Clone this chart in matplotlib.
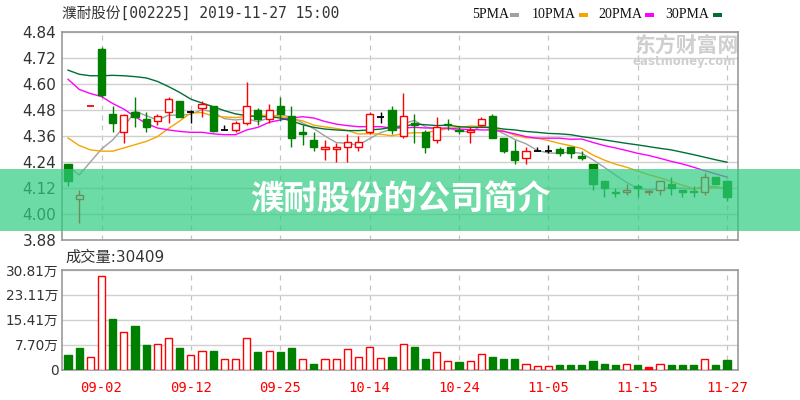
import matplotlib
matplotlib.use("Agg")
import matplotlib.pyplot as plt
from matplotlib.patches import Rectangle

plt.rcParams['font.family'] = ['DejaVu Sans', 'Noto Sans CJK SC']

# ---------------- data ----------------
title = "濮耐股份[002225] 2019-11-27 15:00"
banner = "濮耐股份的公司简介"
vol_title = "成交量:30409"

opens = [4.23, 4.07, 4.50, 4.76, 4.46, 4.38, 4.47, 4.44, 4.43, 4.47,
         4.52, 4.47, 4.49, 4.50, 4.39, 4.39, 4.42, 4.48, 4.44, 4.50,
         4.45, 4.38, 4.34, 4.30, 4.30, 4.31, 4.31, 4.38, 4.45, 4.48,
         4.36, 4.42, 4.38, 4.34, 4.415, 4.39, 4.38, 4.41, 4.45, 4.35,
         4.29, 4.26, 4.29, 4.29, 4.30, 4.31, 4.27, 4.23, 4.15, 4.10,
         4.10, 4.13, 4.10, 4.11, 4.14, 4.11, 4.105, 4.10, 4.17, 4.15]
highs = [4.23, 4.11, 4.50, 4.77, 4.50, 4.46, 4.54, 4.47, 4.46, 4.54,
         4.52, 4.48, 4.52, 4.50, 4.41, 4.43, 4.61, 4.49, 4.51, 4.54,
         4.50, 4.41, 4.38, 4.34, 4.33, 4.37, 4.36, 4.47, 4.47, 4.50,
         4.56, 4.46, 4.39, 4.45, 4.44, 4.40, 4.40, 4.45, 4.46, 4.35,
         4.34, 4.31, 4.31, 4.32, 4.31, 4.31, 4.29, 4.23, 4.15, 4.12,
         4.14, 4.14, 4.11, 4.15, 4.17, 4.11, 4.13, 4.19, 4.17, 4.15]
lows = [4.13, 3.96, 4.50, 4.54, 4.38, 4.33, 4.40, 4.38, 4.41, 4.42,
        4.45, 4.42, 4.45, 4.38, 4.39, 4.38, 4.41, 4.41, 4.42, 4.43,
        4.31, 4.32, 4.29, 4.25, 4.24, 4.24, 4.29, 4.37, 4.42, 4.37,
        4.35, 4.33, 4.28, 4.33, 4.39, 4.37, 4.33, 4.40, 4.35, 4.28,
        4.23, 4.23, 4.29, 4.28, 4.27, 4.26, 4.25, 4.11, 4.08, 4.08,
        4.09, 4.08, 4.09, 4.09, 4.09, 4.08, 4.08, 4.09, 4.14, 4.06]
closes = [4.15, 4.09, 4.50, 4.55, 4.42, 4.455, 4.45, 4.40, 4.45, 4.53,
          4.45, 4.47, 4.51, 4.385, 4.39, 4.42, 4.50, 4.44, 4.48, 4.46,
          4.35, 4.37, 4.31, 4.31, 4.31, 4.33, 4.33, 4.46, 4.45, 4.39,
          4.45, 4.41, 4.31, 4.40, 4.41, 4.385, 4.39, 4.44, 4.35, 4.29,
          4.25, 4.29, 4.29, 4.29, 4.28, 4.28, 4.26, 4.14, 4.12, 4.097,
          4.11, 4.12, 4.105, 4.15, 4.12, 4.10, 4.10, 4.17, 4.14, 4.08]

ma5 = [4.22, 4.18, 4.24, 4.30, 4.342, 4.402, 4.474, 4.454, 4.434, 4.456,
       4.456, 4.46, 4.482, 4.47, 4.44, 4.434, 4.44, 4.426, 4.444, 4.46,
       4.446, 4.42, 4.394, 4.36, 4.33, 4.326, 4.318, 4.348, 4.376, 4.392,
       4.416, 4.432, 4.402, 4.392, 4.396, 4.383, 4.379, 4.405, 4.395, 4.371,
       4.344, 4.324, 4.294, 4.282, 4.28, 4.286, 4.28, 4.25, 4.216, 4.18,
       4.146, 4.118, 4.111, 4.117, 4.121, 4.119, 4.115, 4.128, 4.126, 4.118]
ma10 = [4.351, 4.316, 4.296, 4.29, 4.29, 4.305, 4.32, 4.335, 4.357, 4.395,
        4.429, 4.467, 4.468, 4.452, 4.448, 4.445, 4.45, 4.454, 4.457, 4.45,
        4.44, 4.43, 4.41, 4.402, 4.395, 4.386, 4.369, 4.371, 4.368, 4.361,
        4.371, 4.375, 4.375, 4.384, 4.394, 4.40, 4.406, 4.404, 4.394, 4.384,
        4.364, 4.352, 4.35, 4.339, 4.326, 4.315, 4.302, 4.272, 4.249, 4.23,
        4.216, 4.199, 4.181, 4.167, 4.151, 4.133, 4.117, 4.12, 4.122, 4.12]
ma20 = [4.622, 4.575, 4.556, 4.542, 4.51, 4.484, 4.449, 4.418, 4.397, 4.388,
        4.381, 4.377, 4.377, 4.37, 4.366, 4.366, 4.388, 4.40, 4.423, 4.434,
        4.443, 4.449, 4.443, 4.427, 4.415, 4.408, 4.403, 4.403, 4.403, 4.397,
        4.397, 4.40, 4.397, 4.397, 4.396, 4.392, 4.39, 4.388, 4.388, 4.381,
        4.37, 4.357, 4.35, 4.35, 4.35, 4.345, 4.346, 4.33, 4.316, 4.305,
        4.293, 4.28, 4.27, 4.257, 4.243, 4.231, 4.216, 4.20, 4.185, 4.17]
ma30 = [4.664, 4.645, 4.638, 4.638, 4.64, 4.638, 4.634, 4.628, 4.612, 4.588,
        4.561, 4.53, 4.512, 4.495, 4.477, 4.462, 4.454, 4.449, 4.449, 4.443,
        4.43, 4.412, 4.40, 4.392, 4.388, 4.385, 4.385, 4.388, 4.392, 4.40,
        4.403, 4.415, 4.412, 4.408, 4.41, 4.403, 4.40, 4.40, 4.40, 4.392,
        4.388, 4.381, 4.377, 4.372, 4.37, 4.366, 4.357, 4.35, 4.342, 4.334,
        4.326, 4.319, 4.311, 4.303, 4.296, 4.285, 4.274, 4.262, 4.25, 4.239]

# volume in 万 shares; colour code: R = up (hollow red), r = red filled, G = down (green)
volumes = [4.48, 6.77, 3.96, 28.8, 15.7, 11.66, 13.5, 7.6, 7.9, 9.8,
           6.77, 4.37, 5.7, 5.8, 3.1, 3.1, 9.8, 5.3, 5.7, 5.3,
           6.77, 3.1, 1.8, 3.1, 3.4, 6.2, 4.0, 7.1, 3.5, 4.0,
           7.9, 7.1, 3.1, 5.3, 2.6, 2.2, 2.6, 4.8, 4.0, 3.2,
           3.2, 1.6, 1.15, 1.15, 1.25, 1.25, 1.25, 2.6, 1.8, 1.25,
           1.6, 1.25, 0.7, 1.6, 1.25, 1.25, 1.25, 3.4, 1.25, 3.04]
vol_dir = "GGRRGRGGRRGRRGRRRGRGGRGRRRRRRGRGGRRGRRGGGRRRGGGGGGRGrRGGGRGG"

date_pos = [3, 11, 19, 27, 35, 43, 51, 59]
date_labels = ["09-02", "09-12", "09-25", "10-14", "10-24", "11-05", "11-15", "11-27"]
price_ticks = [3.88, 4.00, 4.12, 4.24, 4.36, 4.48, 4.60, 4.72, 4.84]
vol_ticks = [0, 7.70, 15.41, 23.11, 30.81]
vol_tick_labels = ["0", "7.70万", "15.41万", "23.11万", "30.81万"]
legend_names = ["5PMA", "10PMA", "20PMA", "30PMA"]

# ---------------- style ----------------
RED = "#ff0000"
GREEN = "#008000"
MA_COLORS = ["#a0a0a0", "#f5a500", "#ff00ff", "#006f35"]
GRID = "#d0d0d0"
FRAME = "#9a9a9a"
TXT = "#333333"

fig = plt.figure(figsize=(8, 4), dpi=100)
ax = fig.add_axes([62 / 800, 1 - 240 / 400, 676 / 800, 208 / 400])
axv = fig.add_axes([62 / 800, 1 - 369.5 / 400, 676 / 800, 99.5 / 400])

n = len(closes)
xs = list(range(n))
W = 0.64

for a in (ax, axv):
    a.set_xlim(-0.54, 59.98)
    for s in a.spines.values():
        s.set_color(FRAME)
        s.set_linewidth(1.2)
    a.set_xticks(date_pos)
    a.tick_params(length=0, colors=TXT)
    a.grid(axis='x', color="#c4c4c4", linestyle=(0, (4, 4)), linewidth=0.9)
    a.grid(axis='y', color=GRID, linestyle='-', linewidth=1.0)
    a.set_axisbelow(True)

# price panel
ax.set_ylim(3.88, 4.84)
ax.set_yticks(price_ticks)
ax.set_yticklabels([f"{t:.2f}" for t in price_ticks], fontsize=11, color=TXT)
ax.tick_params(axis='y', pad=4)
ax.set_xticklabels([])

for ma, col in zip([ma5, ma10, ma20, ma30], MA_COLORS):
    ax.plot(xs, ma, color=col, linewidth=1.0, zorder=2)

for i in xs:
    o, h, l, c = opens[i], highs[i], lows[i], closes[i]
    if c > o or (c == o and h == l):
        col = RED
        face = "white" if c > o else RED
    elif c < o:
        col = GREEN
        face = GREEN
    else:
        col = "black"
        face = "black"
    ax.vlines(i, l, h, color=col, linewidth=1.0, zorder=3)
    if c != o:
        ax.bar(i, abs(c - o), bottom=min(o, c), width=W, facecolor=face,
               edgecolor=col, linewidth=1.0, zorder=4)
    else:
        ax.hlines(c, i - W / 2, i + W / 2, color=col, linewidth=1.3, zorder=4)

# volume panel
axv.set_ylim(0, 30.81)
axv.set_yticks(vol_ticks)
axv.set_yticklabels(vol_tick_labels, fontsize=9.8, color=TXT)
axv.tick_params(axis='y', pad=2.5)
axv.set_xticklabels(date_labels, fontsize=10, color=RED, family=['DejaVu Sans Mono'])
axv.tick_params(axis='x', pad=8, colors=RED)
for i in xs:
    d = vol_dir[i]
    if d == "R":
        axv.bar(i, volumes[i], width=W, facecolor="white", edgecolor=RED, linewidth=1.0, zorder=3)
    elif d == "r":
        axv.bar(i, volumes[i], width=W, facecolor=RED, edgecolor=RED, linewidth=1.0, zorder=3)
    else:
        axv.bar(i, volumes[i], width=W, facecolor=GREEN, edgecolor=GREEN, linewidth=1.0, zorder=3)

# texts
fig.text(62 / 800, 1 - 13 / 400, title, fontsize=10.5, color=TXT, va='center', ha='left',
         family=['DejaVu Sans Mono', 'Noto Sans CJK SC'])
fig.text(65 / 800, 1 - 257.5 / 400, vol_title, fontsize=11, color=TXT, va='center', ha='left',
         family=['DejaVu Sans', 'Noto Sans CJK SC'])

leg_x = [472, 532, 598, 665]
dash_x = [510, 579, 645, 713]
for name, lx, dx, col in zip(legend_names, leg_x, dash_x, MA_COLORS):
    fig.text(lx / 800, 1 - 15 / 400, name, fontsize=10, color="#111111", va='center', ha='left',
             family=['Liberation Serif'])
    fig.add_artist(Rectangle((dx / 800, 1 - 17 / 400), 9 / 800, 3.5 / 400, transform=fig.transFigure,
                             facecolor=col, edgecolor='none'))

# watermark
fig.text(687 / 800, 1 - 46 / 400, "东方财富网", fontsize=15, color="#cfcfcf", va='center', ha='center',
         family=['Noto Sans CJK SC'], fontweight='bold', zorder=1)
fig.text(684 / 800, 1 - 62 / 400, "eastmoney.com", fontsize=8.5, color="#cfcfcf", va='center', ha='center',
         fontweight='bold', zorder=1)

# banner overlay
fig.add_artist(Rectangle((0, 1 - 231 / 400), 1, 62 / 400, transform=fig.transFigure,
                         facecolor=(0.18, 0.80, 0.50), alpha=0.7, edgecolor='none', zorder=10))
fig.text(0.5, 1 - 200 / 400, banner, fontsize=24, color="white", fontweight='bold',
         va='center', ha='center', family=['Noto Sans CJK SC'], zorder=11)

fig.savefig("out.png", dpi=100)
